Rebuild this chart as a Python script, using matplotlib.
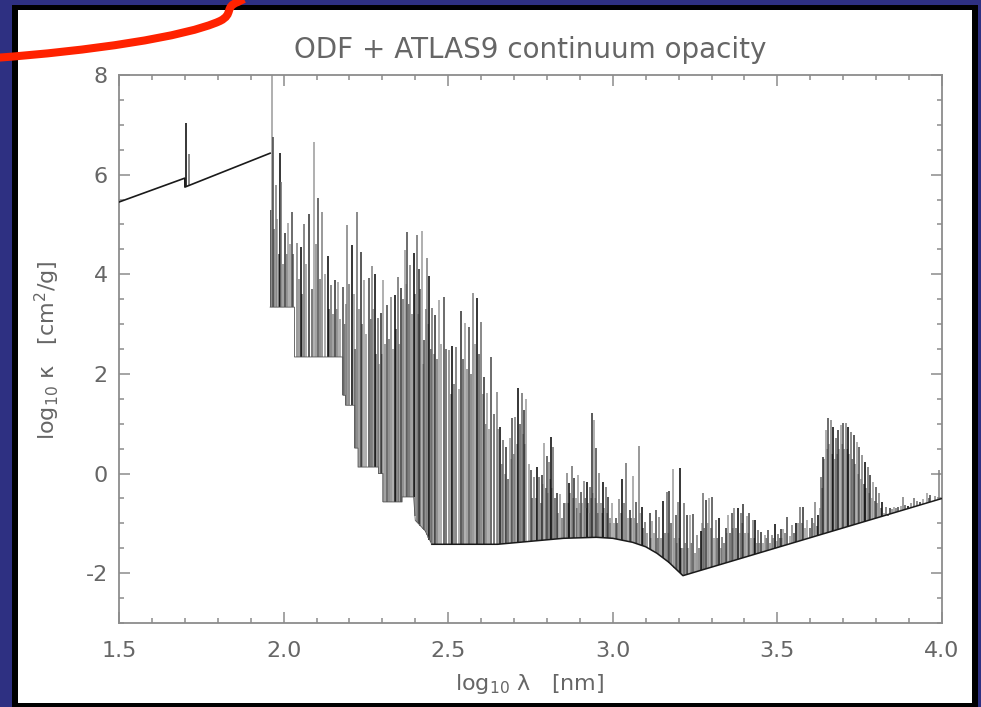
import numpy as np
import matplotlib
matplotlib.use("Agg")
import matplotlib.pyplot as plt
from matplotlib.patches import Rectangle, PathPatch
from matplotlib.path import Path
from matplotlib.transforms import Affine2D

# ---------------------------------------------------------------
# Data: log10 wavelength [nm] vs log10 opacity [cm^2/g]
# ---------------------------------------------------------------
# continuum / lower envelope of the line blanketing
floor_x = [1.500, 1.700, 1.7001, 1.959, 1.9591, 2.033, 2.0331, 2.180, 2.1801,
           2.188, 2.1881, 2.216, 2.2161, 2.226, 2.2261, 2.288, 2.2881, 2.302,
           2.3021, 2.360, 2.3601, 2.395, 2.400, 2.430, 2.450, 2.650, 2.750,
           2.850, 2.950, 3.000, 3.060, 3.100, 3.134, 3.170, 3.213, 4.000]
floor_y = [5.45, 5.93, 5.75, 6.43, 3.34, 3.34, 2.34, 2.34, 1.57,
           1.57, 1.37, 1.37, 0.51, 0.51, 0.13, 0.13, 0.00, 0.00,
           -0.57, -0.57, -0.47, -0.47, -0.94, -1.15, -1.42, -1.42, -1.36,
           -1.30, -1.28, -1.30, -1.38, -1.47, -1.60, -1.78, -2.05, -0.50]

# strong ODF line peaks
line_x = [1.705, 1.714, 1.962, 1.965, 1.968, 1.976, 1.989, 1.993, 2.004, 2.014,
          2.025, 2.040, 2.052, 2.063, 2.078, 2.092, 2.105, 2.118, 2.134, 2.144,
          2.156, 2.166, 2.181, 2.194, 2.207, 2.222, 2.234, 2.244, 2.259, 2.269,
          2.277, 2.286, 2.296, 2.303, 2.313, 2.325, 2.337, 2.348, 2.358, 2.368,
          2.375, 2.385, 2.395, 2.404, 2.411, 2.419, 2.428, 2.436, 2.443, 2.451,
          2.460, 2.471, 2.486, 2.502, 2.512, 2.525, 2.540, 2.551, 2.563, 2.575,
          2.586, 2.599, 2.609, 2.619, 2.629, 2.647, 2.657, 2.667, 2.677, 2.687,
          2.695, 2.703, 2.713, 2.723, 2.730, 2.737, 2.751, 2.761, 2.771, 2.776,
          2.786, 2.792, 2.799, 2.806, 2.812, 2.819, 2.830, 2.840, 2.853, 2.860,
          2.867, 2.875, 2.883, 2.893, 2.903, 2.911, 2.921, 2.931, 2.936, 2.942,
          2.949, 2.959, 2.969, 2.978, 2.986, 2.997, 3.010, 3.019, 3.029, 3.040,
          3.052, 3.060, 3.069, 3.080, 3.088, 3.098, 3.113, 3.120, 3.131, 3.141,
          3.153, 3.164, 3.172, 3.182, 3.192, 3.198, 3.204, 3.216, 3.224, 3.234,
          3.244, 3.255, 3.267, 3.273, 3.283, 3.293, 3.301, 3.313, 3.324, 3.333,
          3.343, 3.351, 3.361, 3.369, 3.380, 3.389, 3.397, 3.407, 3.415, 3.425,
          3.433, 3.440, 3.450, 3.462, 3.470, 3.483, 3.493, 3.503, 3.511, 3.518,
          3.530, 3.543, 3.556, 3.569, 3.579, 3.591, 3.606, 3.614, 3.624, 3.632,
          3.639, 3.647, 3.655, 3.662, 3.670, 3.678, 3.685, 3.692, 3.700, 3.707,
          3.715, 3.723, 3.732, 3.741, 3.749, 3.758, 3.766, 3.774, 3.782, 3.791,
          3.799, 3.809, 3.819, 3.829, 3.842, 3.855, 3.867, 3.882, 3.897, 3.916,
          3.933, 3.953, 3.965, 3.991]
line_top = [7.03, 6.41, 5.30, 8.20, 6.75, 5.80, 6.43, 5.85, 4.83, 5.03,
            5.25, 4.63, 4.55, 5.00, 5.20, 6.65, 5.53, 5.25, 4.37, 3.78,
            3.88, 3.84, 3.74, 4.99, 4.59, 5.25, 4.45, 3.88, 3.92, 4.16,
            4.00, 3.12, 3.22, 3.88, 3.38, 3.54, 3.58, 3.94, 3.72, 4.49,
            4.85, 4.18, 4.43, 4.79, 4.10, 4.87, 2.68, 4.33, 3.96, 3.32,
            3.18, 3.48, 3.54, 2.48, 2.56, 2.54, 3.26, 3.02, 2.94, 3.62,
            3.52, 3.04, 1.94, 1.61, 2.34, 1.63, 0.93, 0.67, 0.53, 0.71,
            1.11, 1.13, 1.71, 1.61, 1.27, 1.49, 0.07, -0.07, 0.13, -0.07,
            -0.03, 0.61, 0.35, 0.23, 0.73, 0.53, -0.39, -0.41, -0.59, 0.01,
            -0.19, 0.15, -0.09, -0.03, -0.37, -0.15, -0.17, -0.27, 1.21, 1.07,
            0.51, 0.01, -0.17, -0.27, -0.47, -0.59, -0.89, -0.51, -0.11, 0.21,
            -0.73, -0.05, -0.57, 0.55, -0.67, -0.97, -0.80, -0.96, -0.73, -0.88,
            -0.55, -0.37, -0.35, 0.09, -0.84, -0.57, 0.11, -0.59, -0.84, -0.84,
            -0.82, -1.24, -1.16, -0.39, -0.53, -0.49, -0.47, -0.94, -0.90, -1.28,
            -1.10, -0.84, -0.80, -0.70, -0.70, -0.80, -0.61, -0.86, -0.80, -0.94,
            -0.94, -1.14, -1.18, -1.24, -1.14, -1.24, -1.02, -1.22, -1.12, -1.12,
            -0.88, -1.04, -1.00, -0.68, -0.68, -0.94, -0.90, -0.57, -0.84, -0.07,
            0.33, 0.87, 1.11, 1.07, 0.93, 0.71, 0.87, 0.97, 1.01, 1.01,
            0.93, 0.83, 0.77, 0.63, 0.53, 0.37, 0.23, 0.13, -0.03, -0.17,
            -0.27, -0.39, -0.57, -0.67, -0.70, -0.67, -0.67, -0.47, -0.65, -0.49,
            -0.57, -0.39, -0.43, 0.07]

# weaker sub-bin peaks between the strong ones
weak_x = [1.972, 1.980, 1.985, 1.998, 2.009, 2.019, 2.030,
          2.046, 2.057, 2.069, 2.085, 2.098, 2.111, 2.126, 2.139, 2.150, 2.161, 2.172,
          2.185, 2.190, 2.200, 2.213, 2.218, 2.228, 2.239, 2.250, 2.264, 2.272,
          2.281, 2.291, 2.299,
          2.308, 2.319, 2.331, 2.342, 2.352, 2.363, 2.371, 2.380, 2.390, 2.399,
          2.408, 2.415, 2.424, 2.432, 2.440, 2.447,
          2.456, 2.466, 2.479, 2.494, 2.507, 2.518, 2.532, 2.546, 2.557, 2.569,
          2.581, 2.593, 2.605, 2.614, 2.624, 2.638, 2.652,
          2.662, 2.672, 2.682, 2.691, 2.699, 2.708, 2.718, 2.727, 2.734, 2.744,
          2.756,
          2.766, 2.781, 2.789, 2.796, 2.803, 2.809, 2.815, 2.824, 2.835, 2.846,
          2.857, 2.864, 2.871, 2.879,
          2.887, 2.890, 2.897, 2.900, 2.907, 2.915, 2.918, 2.925, 2.928, 2.934,
          2.939, 2.945, 2.953, 2.956, 2.963, 2.966, 2.973, 2.982, 2.990, 2.993,
          3.004, 3.014, 3.024, 3.034, 3.046, 3.056, 3.064, 3.074, 3.084, 3.093,
          3.105, 3.116, 3.125, 3.136, 3.146, 3.158, 3.168, 3.177, 3.187, 3.195,
          3.201, 3.208,
          3.212, 3.220, 3.229, 3.239, 3.250, 3.261, 3.270, 3.278, 3.288, 3.297,
          3.307, 3.318, 3.329, 3.338, 3.347, 3.356, 3.365, 3.375, 3.385, 3.393,
          3.402, 3.411, 3.420, 3.429, 3.437, 3.445, 3.456, 3.466, 3.477, 3.488,
          3.498, 3.507, 3.515, 3.524, 3.537, 3.550, 3.562, 3.574, 3.585, 3.598,
          3.610, 3.619, 3.628,
          3.635, 3.643, 3.651, 3.658, 3.666, 3.674, 3.681, 3.688, 3.696, 3.703,
          3.711, 3.719, 3.727, 3.736, 3.745, 3.753, 3.762, 3.770, 3.778, 3.786,
          3.795, 3.804, 3.814, 3.824, 3.836,
          3.848, 3.861, 3.875, 3.889, 3.906, 3.924, 3.943, 3.959, 3.978]
weak_top = [4.9, 5.1, 4.4, 4.2, 4.4, 4.6, 4.4,
            3.9, 3.6, 4.2, 3.7, 4.6, 3.9, 4.0, 3.3, 3.2, 3.3, 3.1,
            3.0, 3.4, 3.8, 3.6, 2.5, 3.3, 3.0, 2.8, 3.1, 3.3,
            2.4, 2.2, 2.4,
            2.6, 2.7, 2.5, 2.9, 2.6, 3.5, 3.8, 3.4, 3.2, 3.6,
            3.2, 3.7, 2.2, 3.3, 3.0, 2.5,
            2.4, 2.3, 2.6, 2.5, 1.6, 1.8, 1.7, 2.3, 2.1, 2.0,
            2.6, 2.4, 1.6, 1.0, 0.9, 1.2, 0.9,
            0.2, 0.0, -0.1, 0.3, 0.4, 0.6, 1.0, 0.8, 0.6, 0.2,
            -0.5,
            -0.5, -0.6, -0.2, -0.3, -0.4, -0.1, -0.3, -0.5, -0.8, -0.9,
            -0.6, -0.6, -0.4, -0.5,
            -0.5, -0.7, -0.6, -0.8, -0.6, -0.5, -0.7, -0.6, -0.8, -0.5,
            -0.4, -0.5, -0.6, -0.8, -0.6, -0.8, -0.7, -0.8, -0.9, -1.0,
            -1.0, -1.0, -0.8, -0.6, -0.9, -0.9, -0.9, -1.0, -0.8, -1.1,
            -1.2, -1.3, -1.2, -1.3, -1.3, -1.2, -1.2, -1.0, -1.3, -1.4,
            -1.3, -1.5,
            -1.5, -1.4, -1.5, -1.4, -1.6, -1.5, -1.0, -1.1, -1.0, -1.1,
            -1.3, -1.3, -1.5, -1.4, -1.2, -1.2, -1.1, -1.1, -1.2, -1.0,
            -1.2, -1.2, -1.3, -1.3, -1.4, -1.4, -1.4, -1.3, -1.4, -1.3,
            -1.35, -1.3, -1.3, -1.2, -1.25, -1.2, -1.0, -1.0, -1.1, -1.1,
            -1.0, -1.05, -0.7,
            -0.3, 0.3, 0.5, 0.6, 0.4, 0.3, 0.4, 0.5, 0.6, 0.5,
            0.5, 0.4, 0.3, 0.2, 0.0, -0.1, -0.2, -0.3, -0.4, -0.5,
            -0.55, -0.6, -0.7, -0.8, -0.85,
            -0.72, -0.70, -0.66, -0.63, -0.60, -0.56, -0.52, -0.49, -0.45]

x_ticks = [1.5, 2.0, 2.5, 3.0, 3.5, 4.0]
y_ticks = [-2, 0, 2, 4, 6, 8]
x_range = (1.5, 4.0)
y_range = (-3.0, 8.0)

title_text = "ODF + ATLAS9 continuum opacity"
x_label = r"log$_{10}$ λ   [nm]"
y_label = r"log$_{10}$ κ   [cm$^2$/g]"

# ---------------------------------------------------------------
W, H = 981, 707
plt.rcParams["font.family"] = ["DejaVu Sans"]
plt.rcParams["mathtext.fontset"] = "custom"
plt.rcParams["mathtext.rm"] = "DejaVu Sans"
plt.rcParams["mathtext.default"] = "regular"

text_gray = "#666666"
axis_gray = "#8c8c8c"

fig = plt.figure(figsize=(W / 100, H / 100), dpi=100)
fig.patch.set_facecolor("#2e3082")

# pixel-space transform (origin at top-left)
px = Affine2D().scale(1 / W, -1 / H).translate(0, 1) + fig.transFigure

# framed white panel (behind the axes)
fig.patches.append(Rectangle((12, 5), 966, 710, transform=px,
                             facecolor="black", edgecolor="none", zorder=-3))
fig.patches.append(Rectangle((18, 10), 954, 693, transform=px,
                             facecolor="white", edgecolor="none", zorder=-2))

ax = fig.add_axes([119 / W, 1 - 623 / H, (942 - 119) / W, (623 - 75) / H])
ax.set_facecolor("white")

# weak sub-bin peaks (lighter, underneath)
weak_base = np.interp(weak_x, floor_x, floor_y)
weak_shades = ["#7c7c7c", "#a0a0a0", "#636363", "#909090"]
ax.vlines(weak_x, weak_base, weak_top,
          colors=[weak_shades[i % len(weak_shades)] for i in range(len(weak_x))],
          lw=1.2, zorder=1)

# continuum: solid where it is unblanketed, faint under the line forest
fx = np.array(floor_x)
fy = np.array(floor_y)
left = fx <= 1.959
right = fx >= 2.45
mid = (fx >= 1.9591) & (fx <= 2.45)
ax.plot(fx[left], fy[left], color="#1a1a1a", lw=1.2, zorder=3)
ax.plot(fx[right], fy[right], color="#1a1a1a", lw=1.1, zorder=3)
ax.plot(fx[mid], fy[mid], color="#555555", lw=0.6, zorder=3)

# strong line peaks rising from the envelope
base = np.interp(line_x, floor_x, floor_y)
shades = ["#000000", "#6a6a6a", "#2c2c2c", "#9a9a9a", "#444444", "#7d7d7d"]
colors = [shades[i % len(shades)] for i in range(len(line_x))]
ax.vlines(line_x, base, line_top, colors=colors, lw=1.1, zorder=2)

ax.set_xlim(*x_range)
ax.set_ylim(*y_range)
ax.set_xticks(x_ticks)
ax.set_xticklabels([f"{v:.1f}" for v in x_ticks])
ax.set_yticks(y_ticks)
ax.set_yticklabels([f"{v:d}" for v in y_ticks])
ax.xaxis.set_minor_locator(matplotlib.ticker.MultipleLocator(0.1))
ax.yaxis.set_minor_locator(matplotlib.ticker.MultipleLocator(0.5))

for s in ax.spines.values():
    s.set_color(axis_gray)
    s.set_linewidth(1.3)
ax.tick_params(which="both", direction="in", top=True, right=True,
               color=axis_gray, width=1.1, labelcolor=text_gray, labelsize=16)
ax.tick_params(which="major", length=8)
ax.tick_params(which="minor", length=3.5)
ax.tick_params(axis="x", which="major", pad=13)
ax.tick_params(axis="y", which="major", pad=8)

fig.text(530 / W, 1 - 50 / H, title_text, ha="center", va="center",
         fontsize=20, color=text_gray)
fig.text(530 / W, 1 - 684 / H, x_label, ha="center", va="center",
         fontsize=16, color=text_gray)
fig.text(47 / W, 1 - 350 / H, y_label, ha="center", va="center",
         rotation=90, fontsize=16, color=text_gray)

# red accent stroke across the top-left corner
stroke = Path([(-6, 58), (90, 51), (185, 37), (220, 21),
               (234, 14), (224, 7), (238, 2), (244, -1), (252, -4)],
              [Path.MOVETO, Path.CURVE4, Path.CURVE4, Path.CURVE4,
               Path.CURVE4, Path.CURVE4, Path.CURVE4, Path.LINETO, Path.LINETO])
fig.patches.append(PathPatch(stroke, transform=px, facecolor="none",
                             edgecolor="#ff2200", lw=5.8, capstyle="butt",
                             zorder=5))

fig.savefig("out.png", dpi=100, facecolor=fig.get_facecolor())
